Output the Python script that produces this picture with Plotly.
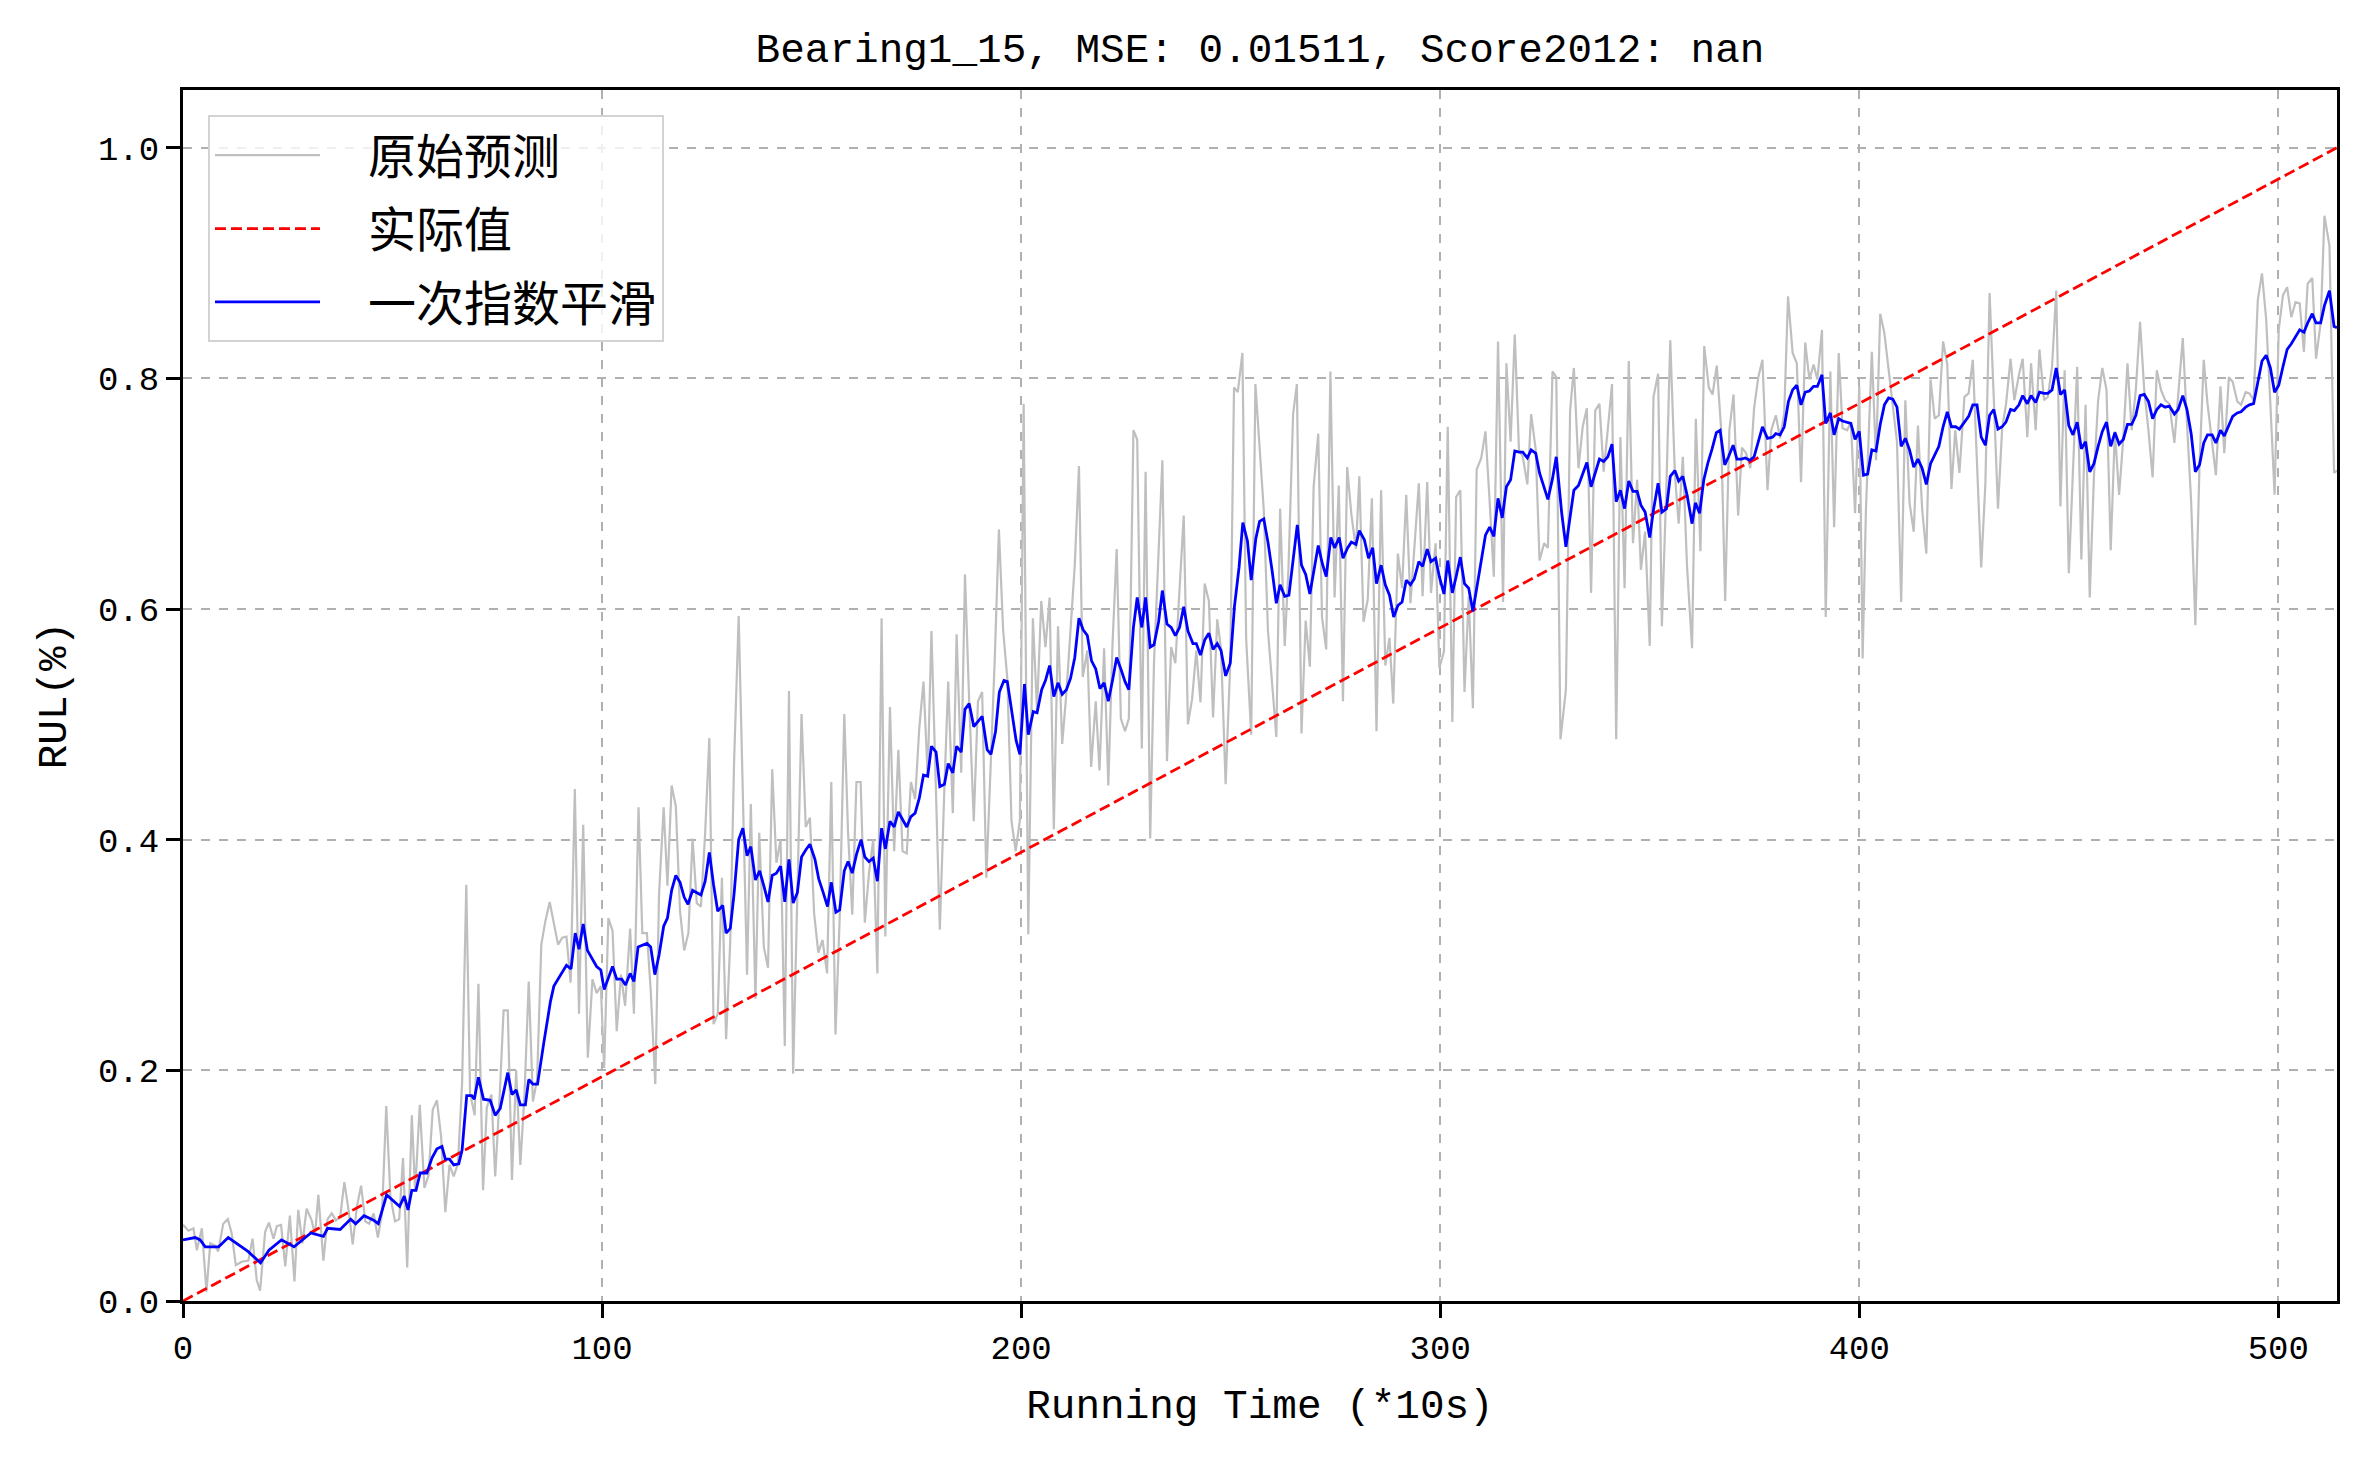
"""
Bearing1_15 RUL prediction chart: raw prediction, actual RUL, single exponential smoothing
"""
import plotly.graph_objects as go

# region Data
TITLE = "Bearing1_15, MSE: 0.01511, Score2012: nan"
X_LABEL = "Running Time (*10s)"
Y_LABEL = "RUL(%)"
NAMES = ["原始预测", "实际值", "一次指数平滑"]

X_TICKS = [0, 100, 200, 300, 400, 500]
Y_TICKS = [0.0, 0.2, 0.4, 0.6, 0.8, 1.0]
X_RANGE = [0, 514]
Y_RANGE = [0, 1.05]

# actual RUL: straight line from the first to the last sample
ACTUAL_X = [0, 514]
ACTUAL_Y = [0.0, 1.0]

# raw prediction (x, RUL)
RAW_PRED = [
    (0.0, 0.066), (1.3, 0.061), (2.5, 0.063), (3.3, 0.044), (4.5, 0.063), (5.6, 0.008),
    (6.5, 0.050), (7.6, 0.048), (8.4, 0.043), (9.6, 0.067), (10.7, 0.071), (11.6, 0.059),
    (12.6, 0.031), (14.0, 0.034), (15.6, 0.035), (16.6, 0.054), (17.6, 0.018), (18.4, 0.009),
    (19.6, 0.060), (20.5, 0.068), (21.6, 0.054), (22.4, 0.065), (23.4, 0.066), (24.4, 0.030),
    (25.5, 0.074), (26.6, 0.017), (27.5, 0.079), (28.5, 0.050), (29.5, 0.080), (30.7, 0.070),
    (31.5, 0.057), (32.3, 0.092), (33.5, 0.035), (34.5, 0.071), (35.5, 0.076), (36.5, 0.070),
    (37.5, 0.073), (38.5, 0.103), (39.5, 0.079), (40.5, 0.049), (41.5, 0.082), (42.5, 0.100),
    (43.5, 0.069), (44.4, 0.067), (45.5, 0.076), (46.5, 0.055), (47.5, 0.076), (48.5, 0.169),
    (49.5, 0.090), (50.6, 0.069), (51.6, 0.071), (52.5, 0.124), (53.5, 0.029), (54.6, 0.161),
    (55.4, 0.095), (56.5, 0.170), (57.6, 0.098), (58.6, 0.109), (59.6, 0.166), (60.6, 0.174),
    (61.6, 0.142), (62.6, 0.077), (63.6, 0.118), (64.6, 0.108), (65.6, 0.119), (66.6, 0.189),
    (67.6, 0.361), (68.5, 0.180), (69.6, 0.161), (70.5, 0.275), (71.6, 0.096), (72.5, 0.168),
    (73.6, 0.179), (74.5, 0.108), (75.6, 0.180), (76.5, 0.252), (77.5, 0.252), (78.5, 0.105),
    (79.5, 0.200), (80.5, 0.118), (81.5, 0.180), (82.5, 0.277), (83.5, 0.173), (84.5, 0.192),
    (85.5, 0.309), (86.5, 0.330), (87.5, 0.346), (88.5, 0.327), (89.5, 0.309), (90.5, 0.315),
    (91.5, 0.316), (92.5, 0.276), (93.5, 0.444), (94.5, 0.249), (95.5, 0.413), (96.6, 0.211),
    (97.7, 0.279), (98.7, 0.267), (99.7, 0.273), (100.5, 0.202), (101.5, 0.332), (102.5, 0.321),
    (103.5, 0.234), (104.5, 0.283), (105.5, 0.256), (106.7, 0.323), (107.6, 0.249), (108.7, 0.428),
    (109.6, 0.319), (110.7, 0.319), (111.6, 0.270), (112.7, 0.188), (113.6, 0.353), (114.7, 0.428),
    (115.6, 0.360), (116.6, 0.447), (117.6, 0.429), (118.6, 0.338), (119.6, 0.304), (120.6, 0.319),
    (121.6, 0.401), (122.6, 0.345), (123.6, 0.342), (124.6, 0.406), (125.6, 0.488), (126.6, 0.240),
    (127.6, 0.249), (128.6, 0.367), (129.6, 0.227), (130.6, 0.313), (131.5, 0.467), (132.6, 0.594),
    (133.5, 0.452), (134.6, 0.283), (135.5, 0.431), (136.6, 0.262), (137.5, 0.406), (138.6, 0.307),
    (139.6, 0.289), (140.6, 0.461), (141.6, 0.380), (142.6, 0.400), (143.6, 0.221), (144.6, 0.529),
    (145.6, 0.197), (146.6, 0.361), (147.6, 0.509), (148.6, 0.411), (149.6, 0.419), (150.6, 0.336),
    (151.6, 0.302), (152.6, 0.313), (153.7, 0.284), (154.7, 0.450), (155.7, 0.231), (156.7, 0.332),
    (157.8, 0.509), (158.7, 0.406), (159.7, 0.335), (160.7, 0.450), (161.7, 0.450), (162.7, 0.328),
    (163.7, 0.371), (164.7, 0.400), (165.7, 0.284), (166.7, 0.592), (167.6, 0.316), (168.7, 0.515),
    (169.7, 0.390), (170.7, 0.478), (171.7, 0.390), (172.7, 0.388), (173.7, 0.450), (174.7, 0.435),
    (175.7, 0.497), (176.7, 0.537), (177.7, 0.455), (178.6, 0.581), (179.7, 0.449), (180.6, 0.322),
    (181.7, 0.446), (182.6, 0.537), (183.7, 0.423), (184.6, 0.578), (185.7, 0.458), (186.6, 0.630),
    (187.6, 0.520), (188.7, 0.416), (189.7, 0.520), (190.7, 0.528), (191.7, 0.367), (192.8, 0.465),
    (193.7, 0.556), (194.7, 0.669), (195.7, 0.582), (196.7, 0.540), (197.7, 0.416), (198.7, 0.390),
    (199.7, 0.417), (200.6, 0.778), (201.7, 0.318), (202.8, 0.592), (203.8, 0.512), (204.8, 0.607),
    (205.8, 0.567), (206.8, 0.610), (207.8, 0.409), (208.8, 0.585), (209.8, 0.483), (210.8, 0.527),
    (211.8, 0.579), (212.8, 0.638), (213.8, 0.724), (214.7, 0.541), (215.8, 0.564), (216.7, 0.463),
    (217.8, 0.520), (218.7, 0.460), (219.8, 0.566), (220.8, 0.447), (221.8, 0.569), (222.8, 0.652),
    (223.8, 0.505), (224.8, 0.494), (225.7, 0.505), (226.8, 0.755), (227.7, 0.747), (228.8, 0.479),
    (229.7, 0.719), (230.8, 0.401), (231.7, 0.553), (232.8, 0.659), (233.7, 0.729), (234.8, 0.468),
    (235.8, 0.567), (236.8, 0.553), (237.8, 0.615), (238.8, 0.681), (239.8, 0.500), (240.8, 0.522),
    (241.8, 0.564), (242.8, 0.519), (243.8, 0.622), (244.8, 0.607), (245.8, 0.506), (246.8, 0.591),
    (247.7, 0.565), (248.8, 0.448), (249.9, 0.553), (250.8, 0.792), (251.7, 0.788), (252.8, 0.822),
    (253.7, 0.574), (254.9, 0.491), (255.9, 0.795), (256.9, 0.741), (257.9, 0.686), (258.9, 0.581),
    (259.9, 0.531), (260.9, 0.489), (261.8, 0.687), (262.9, 0.568), (263.8, 0.636), (264.9, 0.769),
    (265.8, 0.795), (266.9, 0.492), (267.9, 0.590), (268.9, 0.550), (269.8, 0.706), (270.9, 0.752),
    (271.8, 0.593), (272.8, 0.565), (273.8, 0.806), (274.8, 0.610), (275.8, 0.707), (276.8, 0.520),
    (277.8, 0.723), (278.8, 0.682), (279.9, 0.652), (280.7, 0.715), (281.7, 0.589), (282.7, 0.608),
    (283.7, 0.696), (284.8, 0.494), (285.9, 0.703), (286.9, 0.551), (287.9, 0.575), (288.8, 0.518),
    (289.9, 0.648), (290.9, 0.618), (291.9, 0.699), (292.9, 0.605), (293.8, 0.651), (294.9, 0.709),
    (295.8, 0.611), (296.9, 0.710), (297.8, 0.614), (298.9, 0.657), (299.8, 0.549), (300.9, 0.563),
    (301.8, 0.758), (302.9, 0.502), (303.8, 0.697), (304.8, 0.703), (305.8, 0.528), (306.8, 0.611),
    (307.8, 0.514), (308.7, 0.721), (309.8, 0.731), (310.8, 0.754), (311.8, 0.693), (312.8, 0.628),
    (313.8, 0.832), (315.0, 0.606), (315.8, 0.813), (316.8, 0.745), (317.8, 0.838), (318.8, 0.738),
    (319.7, 0.732), (320.8, 0.708), (321.7, 0.769), (322.8, 0.738), (323.7, 0.642), (324.8, 0.657),
    (325.7, 0.653), (326.8, 0.806), (327.7, 0.801), (328.7, 0.487), (330.0, 0.530), (331.0, 0.772),
    (331.9, 0.809), (333.0, 0.722), (334.0, 0.758), (335.0, 0.774), (336.0, 0.614), (337.0, 0.772),
    (338.0, 0.778), (339.0, 0.719), (340.0, 0.756), (341.0, 0.795), (342.0, 0.487), (343.0, 0.749),
    (344.0, 0.618), (345.0, 0.815), (346.0, 0.657), (347.0, 0.712), (347.9, 0.634), (348.9, 0.667),
    (350.0, 0.568), (350.9, 0.784), (352.0, 0.804), (352.9, 0.585), (354.0, 0.709), (354.9, 0.833),
    (356.0, 0.717), (356.9, 0.674), (357.9, 0.732), (358.9, 0.637), (360.1, 0.566), (361.0, 0.765),
    (362.1, 0.650), (363.0, 0.828), (364.1, 0.792), (365.0, 0.786), (366.0, 0.811), (367.0, 0.758),
    (368.0, 0.607), (369.0, 0.755), (370.0, 0.786), (371.1, 0.681), (372.0, 0.740), (373.0, 0.735),
    (374.0, 0.722), (374.9, 0.774), (375.9, 0.801), (376.9, 0.816), (378.1, 0.703), (379.0, 0.755),
    (380.1, 0.768), (381.1, 0.748), (382.1, 0.770), (383.0, 0.871), (384.1, 0.822), (385.1, 0.813),
    (386.1, 0.710), (387.1, 0.831), (388.1, 0.799), (389.1, 0.812), (390.0, 0.799), (391.1, 0.842),
    (392.0, 0.593), (393.1, 0.806), (394.0, 0.671), (395.1, 0.822), (396.0, 0.757), (397.1, 0.755),
    (398.0, 0.762), (399.0, 0.683), (400.0, 0.793), (400.8, 0.557), (401.6, 0.687), (403.0, 0.823),
    (404.0, 0.729), (405.0, 0.856), (406.0, 0.839), (407.0, 0.806), (408.0, 0.777), (409.0, 0.745),
    (410.0, 0.606), (411.0, 0.781), (412.0, 0.692), (413.0, 0.667), (414.0, 0.759), (415.0, 0.687),
    (416.0, 0.648), (417.0, 0.799), (418.0, 0.765), (419.0, 0.768), (420.0, 0.832), (421.0, 0.812),
    (422.0, 0.704), (422.9, 0.755), (423.9, 0.718), (425.1, 0.784), (426.1, 0.787), (427.1, 0.816),
    (428.1, 0.726), (429.1, 0.636), (430.1, 0.709), (431.1, 0.874), (432.1, 0.783), (433.1, 0.687),
    (434.1, 0.757), (435.0, 0.777), (436.1, 0.817), (437.0, 0.781), (438.1, 0.803), (439.0, 0.817),
    (440.1, 0.749), (441.0, 0.813), (442.1, 0.755), (443.0, 0.825), (444.1, 0.781), (445.0, 0.784),
    (446.0, 0.810), (447.0, 0.876), (448.0, 0.689), (449.0, 0.807), (450.0, 0.631), (451.0, 0.715),
    (452.0, 0.810), (453.0, 0.643), (454.0, 0.777), (455.0, 0.610), (456.0, 0.715), (457.0, 0.781),
    (458.0, 0.809), (459.0, 0.790), (460.0, 0.651), (461.0, 0.754), (462.0, 0.699), (463.0, 0.748),
    (464.0, 0.813), (465.0, 0.755), (466.0, 0.790), (467.0, 0.849), (468.0, 0.790), (469.0, 0.755),
    (470.0, 0.714), (471.0, 0.807), (472.0, 0.790), (473.0, 0.781), (474.0, 0.778), (475.2, 0.744),
    (476.1, 0.784), (477.2, 0.835), (478.2, 0.761), (479.2, 0.693), (480.2, 0.586), (481.2, 0.726),
    (482.2, 0.816), (483.1, 0.778), (484.2, 0.744), (485.1, 0.716), (486.2, 0.793), (487.1, 0.735),
    (488.2, 0.801), (489.1, 0.797), (490.2, 0.780), (491.1, 0.777), (492.2, 0.788), (493.1, 0.787),
    (494.1, 0.781), (495.1, 0.868), (496.1, 0.891), (497.1, 0.851), (498.1, 0.778), (499.1, 0.699),
    (500.1, 0.842), (501.1, 0.872), (502.1, 0.879), (503.1, 0.853), (504.1, 0.866), (505.1, 0.865),
    (506.1, 0.823), (507.0, 0.882), (508.1, 0.887), (509.0, 0.817), (510.1, 0.848), (511.0, 0.941),
    (512.2, 0.915), (513.3, 0.718), (514.0, 0.720),
]

# single exponential smoothing of the prediction (x, RUL)
SMOOTHED = [
    (0.0, 0.053), (2.9, 0.055), (4.1, 0.053), (5.3, 0.047), (8.5, 0.047), (10.8, 0.055),
    (15.5, 0.043), (18.5, 0.033), (20.5, 0.044), (23.5, 0.053), (26.5, 0.047), (30.5, 0.059),
    (33.5, 0.056), (34.5, 0.063), (37.5, 0.062), (40.0, 0.071), (41.2, 0.067), (43.2, 0.074),
    (45.5, 0.070), (46.6, 0.067), (48.6, 0.092), (49.6, 0.089), (51.7, 0.082), (52.8, 0.091),
    (53.7, 0.079), (54.6, 0.096), (55.6, 0.096), (56.6, 0.111), (58.2, 0.111), (59.4, 0.124),
    (60.6, 0.132), (61.8, 0.134), (62.6, 0.123), (63.6, 0.123), (64.6, 0.118), (65.8, 0.119),
    (66.6, 0.131), (67.7, 0.178), (68.9, 0.178), (69.5, 0.175), (70.5, 0.194), (71.7, 0.175),
    (73.3, 0.174), (74.5, 0.161), (75.7, 0.167), (77.5, 0.198), (78.5, 0.179), (79.5, 0.183),
    (80.5, 0.170), (81.7, 0.170), (82.5, 0.192), (83.5, 0.188), (84.6, 0.188), (86.1, 0.224),
    (87.7, 0.260), (88.5, 0.273), (90.0, 0.282), (91.5, 0.291), (92.6, 0.288), (93.6, 0.319),
    (94.5, 0.305), (95.5, 0.327), (96.5, 0.304), (97.7, 0.297), (98.7, 0.290), (99.7, 0.287),
    (100.5, 0.270), (102.5, 0.290), (103.5, 0.279), (104.7, 0.279), (105.6, 0.274), (106.7, 0.284),
    (107.6, 0.277), (108.6, 0.307), (110.7, 0.310), (111.6, 0.307), (112.6, 0.283), (113.6, 0.300),
    (114.7, 0.325), (115.6, 0.332), (116.6, 0.356), (117.6, 0.369), (118.6, 0.363), (119.6, 0.350),
    (120.5, 0.344), (121.6, 0.356), (122.6, 0.354), (123.6, 0.352), (124.6, 0.364), (125.6, 0.389),
    (126.6, 0.361), (127.6, 0.338), (128.8, 0.343), (129.6, 0.319), (130.6, 0.323), (131.5, 0.353),
    (132.6, 0.400), (133.6, 0.410), (134.6, 0.386), (135.5, 0.394), (136.6, 0.365), (137.6, 0.373),
    (138.6, 0.360), (139.6, 0.346), (140.6, 0.369), (141.6, 0.371), (142.6, 0.377), (143.6, 0.346),
    (144.6, 0.383), (145.6, 0.345), (146.6, 0.354), (147.6, 0.385), (148.6, 0.391), (149.6, 0.396),
    (150.8, 0.383), (151.7, 0.366), (152.7, 0.355), (153.8, 0.342), (154.7, 0.363), (155.8, 0.337),
    (156.7, 0.339), (157.8, 0.373), (158.7, 0.381), (159.7, 0.371), (160.7, 0.387), (161.8, 0.400),
    (162.7, 0.385), (163.7, 0.381), (164.7, 0.384), (165.7, 0.364), (166.7, 0.410), (167.6, 0.392),
    (168.7, 0.416), (169.7, 0.411), (170.7, 0.424), (171.7, 0.417), (172.7, 0.411), (173.7, 0.420),
    (174.7, 0.423), (175.7, 0.436), (176.7, 0.456), (177.7, 0.455), (178.6, 0.481), (179.7, 0.476),
    (180.6, 0.446), (181.7, 0.448), (182.6, 0.466), (183.7, 0.458), (184.6, 0.481), (185.7, 0.476),
    (186.6, 0.513), (187.6, 0.518), (188.7, 0.498), (190.7, 0.507), (191.9, 0.478), (192.8, 0.474),
    (193.9, 0.494), (194.8, 0.528), (195.9, 0.538), (196.7, 0.537), (197.9, 0.510), (198.8, 0.486),
    (199.7, 0.474), (200.8, 0.535), (201.7, 0.491), (202.9, 0.511), (203.8, 0.510), (204.9, 0.530),
    (205.8, 0.538), (206.8, 0.551), (207.8, 0.524), (208.8, 0.536), (209.8, 0.526), (210.8, 0.530),
    (211.8, 0.540), (212.8, 0.558), (213.8, 0.592), (214.8, 0.582), (215.8, 0.577), (216.8, 0.555),
    (217.8, 0.548), (218.8, 0.531), (219.8, 0.536), (220.8, 0.520), (221.8, 0.538), (222.8, 0.558),
    (223.8, 0.548), (224.8, 0.537), (225.7, 0.530), (226.8, 0.584), (227.7, 0.610), (228.8, 0.584),
    (229.7, 0.610), (230.8, 0.567), (231.7, 0.569), (232.8, 0.589), (233.7, 0.616), (234.8, 0.587),
    (235.8, 0.584), (236.8, 0.577), (237.8, 0.584), (238.8, 0.602), (239.8, 0.581), (241.0, 0.570),
    (241.8, 0.570), (242.8, 0.560), (243.8, 0.573), (244.8, 0.579), (245.8, 0.565), (246.8, 0.570),
    (247.7, 0.564), (248.8, 0.542), (249.9, 0.553), (250.9, 0.602), (252.0, 0.636), (252.9, 0.675),
    (254.0, 0.659), (254.9, 0.625), (256.0, 0.661), (256.9, 0.676), (257.9, 0.678), (258.9, 0.658),
    (259.9, 0.633), (260.9, 0.605), (261.8, 0.621), (262.9, 0.611), (263.9, 0.612), (264.9, 0.642),
    (265.9, 0.673), (266.9, 0.638), (267.9, 0.630), (268.9, 0.613), (269.9, 0.633), (270.9, 0.655),
    (271.9, 0.639), (272.8, 0.628), (273.9, 0.662), (274.8, 0.653), (275.9, 0.662), (276.8, 0.644),
    (277.9, 0.653), (278.8, 0.658), (279.9, 0.656), (280.7, 0.668), (281.9, 0.660), (282.9, 0.644),
    (283.9, 0.653), (284.8, 0.622), (285.9, 0.638), (286.9, 0.621), (287.9, 0.612), (288.9, 0.593),
    (289.9, 0.603), (290.9, 0.606), (291.9, 0.625), (292.9, 0.621), (293.8, 0.626), (294.9, 0.641),
    (295.8, 0.637), (296.9, 0.652), (297.8, 0.641), (298.9, 0.644), (299.8, 0.628), (300.9, 0.613),
    (301.8, 0.642), (302.9, 0.614), (303.8, 0.628), (304.8, 0.645), (305.8, 0.622), (306.8, 0.618),
    (307.8, 0.598), (308.7, 0.618), (309.8, 0.641), (310.8, 0.664), (311.8, 0.671), (312.8, 0.663),
    (313.8, 0.696), (314.8, 0.679), (315.8, 0.706), (316.8, 0.712), (317.8, 0.737), (318.8, 0.736),
    (319.7, 0.736), (320.8, 0.731), (321.7, 0.738), (322.8, 0.735), (323.7, 0.718), (324.8, 0.706),
    (325.7, 0.695), (326.8, 0.713), (327.7, 0.732), (329.0, 0.683), (330.0, 0.654), (331.0, 0.680),
    (331.9, 0.703), (333.0, 0.707), (334.0, 0.717), (335.0, 0.727), (336.0, 0.706), (337.0, 0.717),
    (338.0, 0.730), (339.0, 0.728), (340.0, 0.732), (341.0, 0.743), (342.0, 0.693), (343.0, 0.703),
    (344.0, 0.687), (345.0, 0.711), (346.0, 0.702), (347.0, 0.702), (347.9, 0.690), (348.9, 0.684),
    (350.0, 0.662), (350.9, 0.686), (352.0, 0.709), (352.9, 0.684), (354.0, 0.687), (354.9, 0.715),
    (356.0, 0.720), (356.9, 0.711), (357.9, 0.715), (358.9, 0.699), (360.1, 0.674), (360.9, 0.692),
    (361.9, 0.683), (362.9, 0.712), (363.9, 0.727), (364.9, 0.739), (365.9, 0.753), (366.8, 0.755),
    (367.9, 0.725), (368.8, 0.732), (369.9, 0.742), (370.8, 0.730), (371.9, 0.730), (372.8, 0.731),
    (373.9, 0.729), (374.9, 0.732), (375.9, 0.745), (376.9, 0.758), (378.1, 0.748), (379.3, 0.749),
    (380.1, 0.752), (381.1, 0.751), (382.1, 0.758), (383.1, 0.780), (384.1, 0.790), (385.1, 0.794),
    (386.1, 0.777), (387.1, 0.788), (388.1, 0.789), (389.1, 0.793), (390.0, 0.793), (391.1, 0.803),
    (392.0, 0.761), (393.1, 0.770), (394.0, 0.751), (395.1, 0.765), (396.0, 0.763), (397.1, 0.762),
    (398.0, 0.761), (399.0, 0.747), (400.0, 0.754), (401.0, 0.716), (402.0, 0.717), (403.0, 0.738),
    (404.0, 0.737), (405.0, 0.760), (406.0, 0.777), (407.0, 0.783), (408.0, 0.782), (409.0, 0.775),
    (410.0, 0.741), (411.0, 0.748), (412.0, 0.738), (413.0, 0.723), (414.0, 0.730), (415.0, 0.722),
    (416.0, 0.708), (417.0, 0.726), (418.0, 0.734), (419.0, 0.741), (420.0, 0.758), (421.0, 0.771),
    (422.0, 0.758), (423.0, 0.758), (423.9, 0.756), (425.1, 0.762), (426.1, 0.767), (427.1, 0.777),
    (428.1, 0.777), (429.1, 0.749), (430.1, 0.742), (431.1, 0.768), (432.1, 0.773), (433.1, 0.756),
    (434.1, 0.758), (435.0, 0.762), (436.1, 0.773), (437.0, 0.772), (438.1, 0.777), (439.0, 0.785),
    (440.1, 0.778), (441.0, 0.785), (442.1, 0.779), (443.0, 0.788), (444.1, 0.787), (445.0, 0.787),
    (446.0, 0.790), (447.0, 0.809), (448.0, 0.786), (449.0, 0.790), (450.0, 0.759), (451.0, 0.751),
    (452.0, 0.762), (453.0, 0.739), (454.0, 0.745), (455.0, 0.719), (456.0, 0.726), (457.0, 0.741),
    (458.0, 0.754), (459.0, 0.762), (460.0, 0.741), (461.0, 0.753), (462.0, 0.743), (463.0, 0.747),
    (464.0, 0.760), (465.0, 0.760), (466.0, 0.768), (467.0, 0.785), (468.0, 0.786), (469.0, 0.780),
    (470.0, 0.765), (471.0, 0.773), (472.0, 0.777), (473.0, 0.775), (474.0, 0.776), (475.2, 0.769),
    (476.1, 0.773), (477.2, 0.785), (478.2, 0.773), (479.2, 0.752), (480.2, 0.719), (481.2, 0.725),
    (482.2, 0.744), (483.1, 0.751), (484.2, 0.751), (485.1, 0.744), (486.2, 0.755), (487.1, 0.750),
    (488.2, 0.760), (489.1, 0.767), (490.2, 0.770), (491.1, 0.771), (492.2, 0.775), (493.1, 0.777),
    (494.1, 0.778), (495.1, 0.796), (496.1, 0.815), (497.1, 0.820), (498.1, 0.809), (499.1, 0.788),
    (500.1, 0.794), (501.1, 0.810), (502.1, 0.825), (503.1, 0.830), (504.1, 0.836), (505.1, 0.842),
    (506.1, 0.840), (507.0, 0.848), (508.1, 0.856), (509.0, 0.848), (510.1, 0.848), (511.0, 0.863),
    (512.2, 0.876), (513.3, 0.845), (514.0, 0.844),
]
# endregion

# region Style
W, H = 2366, 1458
FONT = "Liberation Mono, Noto Sans CJK SC, monospace"
CJK_FONT = "Noto Sans CJK SC, Liberation Mono, sans-serif"
GRID = "#b0b0b0"
PAD = "\u00a0\u00a0\u00a0\u00a0"   # gap between legend line sample and label
# endregion

raw_x, raw_y = zip(*RAW_PRED)
sm_x, sm_y = zip(*SMOOTHED)

fig = go.Figure()
fig.add_trace(go.Scatter(
    x=raw_x, y=raw_y, mode="lines", name=PAD + NAMES[0],
    line=dict(color="#bfbfbf", width=2.2),
    legendgroup="a",
))
fig.add_trace(go.Scatter(
    x=ACTUAL_X, y=ACTUAL_Y, mode="lines", name=PAD + NAMES[1],
    line=dict(color="#ff0000", width=2.8, dash="11px,5px"),
    legendgroup="b",
))
fig.add_trace(go.Scatter(
    x=sm_x, y=sm_y, mode="lines", name=PAD + NAMES[2],
    line=dict(color="#0000ff", width=2.8),
    legendgroup="c",
))

axis_common = dict(
    showline=True, linecolor="black", linewidth=3, mirror=True,
    ticks="outside", ticklen=14, tickwidth=3, tickcolor="black",
    showgrid=True, gridcolor=GRID, gridwidth=2, griddash="dash",
    zeroline=False,
    tickfont=dict(family=FONT, size=34, color="black"),
)

fig.update_xaxes(
    **axis_common,
    range=X_RANGE, tickvals=X_TICKS, ticktext=[str(v) for v in X_TICKS],
    title=dict(text=X_LABEL, font=dict(family=FONT, size=41, color="black"), standoff=22),
)
fig.update_yaxes(
    **axis_common,
    range=Y_RANGE, tickvals=Y_TICKS, ticktext=[f"{v:.1f}" for v in Y_TICKS],
    title=dict(text=Y_LABEL, font=dict(family=FONT, size=41, color="black"), standoff=19),
)

# the page body adds an 8px offset, so the margins are shifted to compensate
fig.update_layout(
    width=W, height=H,
    paper_bgcolor="white", plot_bgcolor="white",
    margin=dict(l=175, r=37, t=82, b=165, autoexpand=False),
    title=dict(
        text=TITLE, x=0.5, xanchor="center", xref="paper",
        y=1 - 40 / H, yanchor="middle",
        font=dict(family=FONT, size=41, color="black"),
    ),
    showlegend=True,
    legend=dict(
        x=0.0116, y=0.979, xanchor="left", yanchor="top",
        bgcolor="rgba(255,255,255,0.8)", bordercolor="#d3d3d3", borderwidth=2,
        font=dict(family=CJK_FONT, size=48, color="black"),
        tracegroupgap=8, traceorder="grouped", itemwidth=105,
    ),
)

fig.write_html("out.html")
